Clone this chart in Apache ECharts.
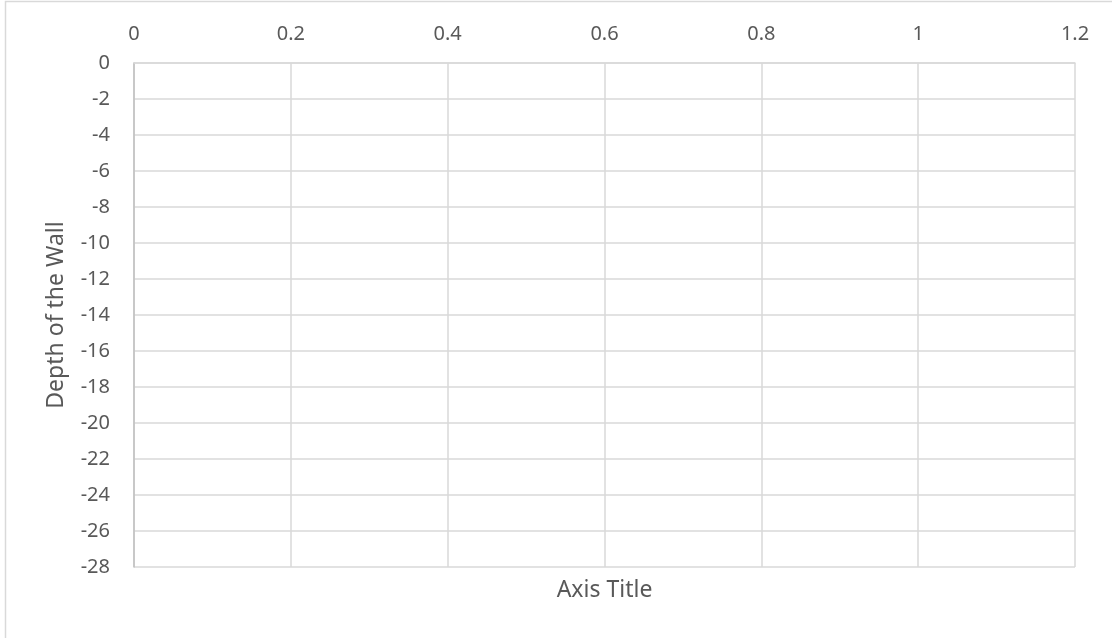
<!DOCTYPE html>
<html style="height: 100%">
<head>
    <meta charset="utf-8">
    <title>Depth of the Wall</title>
    <script src="https://cdn.jsdelivr.net/npm/echarts/dist/echarts.min.js"></script>
</head>
<body style="height: 100%; margin: 0; background: #fff">
    <div id="main" style="width: 1112px; height: 638px"></div>
    <script type="text/javascript">
        // axis ranges and tick steps
        var xRange = [0, 1.2];
        var xStep = 0.2;
        var depthRange = [-28, 0];
        var depthStep = 2;
        // the chart holds no plotted points
        var points = [];

        var myChart = echarts.init(document.getElementById('main'));
        var font = 'Noto Sans';
        var textColor = '#595959';
        var gridColor = '#d9d9d9';

        var option = {
            animation: false,
            textStyle: { fontFamily: font },
            graphic: [{
                type: 'rect',
                shape: { x: 5.5, y: 1.5, width: 1200, height: 700 },
                style: { fill: 'none', stroke: gridColor, lineWidth: 1.5 },
                silent: true
            }],
            grid: { left: 134, right: 37, top: 63, bottom: 71 },
            xAxis: [{
                type: 'value',
                position: 'top',
                min: xRange[0],
                max: xRange[1],
                interval: xStep,
                axisLine: { show: true, lineStyle: { color: gridColor, width: 1.5 } },
                axisTick: { show: false },
                axisLabel: {
                    color: textColor, fontSize: 20, margin: 19, fontFamily: font,
                    formatter: function (v) { return String(+v.toFixed(1)); }
                },
                splitLine: { show: true, lineStyle: { color: gridColor, width: 1.5 } }
            }, {
                type: 'value',
                position: 'bottom',
                min: xRange[0],
                max: xRange[1],
                name: 'Axis Title',
                nameLocation: 'middle',
                nameGap: 12,
                nameTextStyle: { color: textColor, fontSize: 23, fontFamily: font },
                axisLine: { show: false },
                axisTick: { show: false },
                axisLabel: { show: false },
                splitLine: { show: false }
            }],
            yAxis: {
                type: 'value',
                min: depthRange[0],
                max: depthRange[1],
                interval: depthStep,
                name: 'Depth of the Wall',
                nameLocation: 'middle',
                nameGap: 66,
                nameRotate: 90,
                nameTextStyle: { color: textColor, fontSize: 23, fontFamily: font },
                axisLine: { show: true, lineStyle: { color: '#bfbfbf', width: 1.5 } },
                axisTick: { show: false },
                axisLabel: { color: textColor, fontSize: 20, margin: 24, fontFamily: font },
                splitLine: { show: true, lineStyle: { color: gridColor, width: 1.5 } }
            },
            series: [{
                type: 'scatter',
                xAxisIndex: 0,
                data: points
            }]
        };

        myChart.setOption(option);
    </script>
</body>
</html>
